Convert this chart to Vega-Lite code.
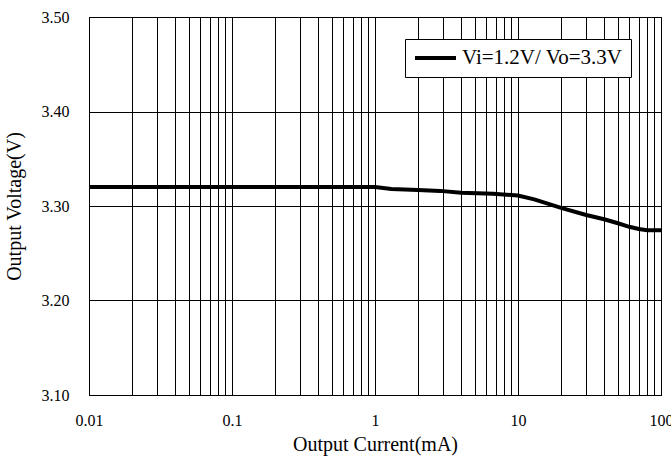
{
  "$schema": "https://vega.github.io/schema/vega-lite/v6.json",
  "autosize": "none",
  "width": 572,
  "height": 378,
  "padding": {"left": 89, "top": 17, "right": 10, "bottom": 62},
  "background": "white",
  "config": {
    "font": "Liberation Serif",
    "style": {"guide-label": {"font": "Liberation Serif", "fontWeight": "normal"}, "guide-title": {"font": "Liberation Serif", "fontWeight": "normal"}},
    "view": {"stroke": "black", "strokeWidth": 1},
    "axis": {"domainColor": "black", "gridColor": "black", "gridOpacity": 1, "gridWidth": 1, "ticks": false, "labelColor": "black", "titleColor": "black", "labelFont": "Liberation Serif", "titleFont": "Liberation Serif", "titleFontWeight": "normal", "labelFontWeight": "normal", "labelFontSize": 16, "titleFontSize": 20},
    "legend": {"labelFont": "Liberation Serif", "labelFontWeight": "normal", "labelLimit": 400}
  },
  "data": {"values": [
    {"current": 0.01, "voltage": 3.320},
    {"current": 0.1, "voltage": 3.320},
    {"current": 1, "voltage": 3.320},
    {"current": 1.3, "voltage": 3.318},
    {"current": 2, "voltage": 3.317},
    {"current": 2.85, "voltage": 3.316},
    {"current": 4, "voltage": 3.314},
    {"current": 6.7, "voltage": 3.313},
    {"current": 10, "voltage": 3.311},
    {"current": 13, "voltage": 3.307},
    {"current": 20, "voltage": 3.298},
    {"current": 30, "voltage": 3.2905},
    {"current": 40, "voltage": 3.286},
    {"current": 50, "voltage": 3.2817},
    {"current": 60, "voltage": 3.278},
    {"current": 70, "voltage": 3.2757},
    {"current": 80, "voltage": 3.2743},
    {"current": 100, "voltage": 3.2743}
  ]},
  "mark": {"type": "line", "strokeWidth": 4, "clip": true},
  "encoding": {
    "x": {
      "field": "current", "type": "quantitative",
      "scale": {"type": "log", "domain": [0.01, 100], "nice": false},
      "axis": {
        "title": "Output Current(mA)",
        "values": [0.01,0.02,0.03,0.04,0.05,0.06,0.07,0.08,0.09,0.1,0.2,0.3,0.4,0.5,0.6,0.7,0.8,0.9,1,2,3,4,5,6,7,8,9,10,20,30,40,50,60,70,80,90,100],
        "format": "~g",
        "labelExpr": "abs(log(datum.value)/LN10 - round(log(datum.value)/LN10)) < 0.000001 ? datum.label : ''",
        "labelPadding": 17,
        "labelFlush": false,
        "labelOverlap": false,
        "titlePadding": 6
      }
    },
    "y": {
      "field": "voltage", "type": "quantitative",
      "scale": {"domain": [3.1, 3.5], "nice": false, "zero": false},
      "axis": {
        "title": "Output Voltage(V)",
        "values": [3.1, 3.2, 3.3, 3.4, 3.5],
        "format": ".2f",
        "labelPadding": 20,
        "titlePadding": 17
      }
    },
    "color": {
      "datum": "Vi=1.2V/ Vo=3.3V",
      "type": "nominal",
      "scale": {"range": ["black"]},
      "legend": {
        "title": null,
        "orient": "none",
        "legendX": 316,
        "legendY": 22,
        "fillColor": "white",
        "strokeColor": "black",
        "padding": 8,
        "clipHeight": 22,
        "symbolType": "stroke",
        "symbolStrokeWidth": 4,
        "symbolSize": 1681,
        "labelFont": "Liberation Serif",
        "labelFontSize": 21,
        "labelLimit": 400,
        "labelColor": "black",
        "labelOffset": 4
      }
    }
  }
}
